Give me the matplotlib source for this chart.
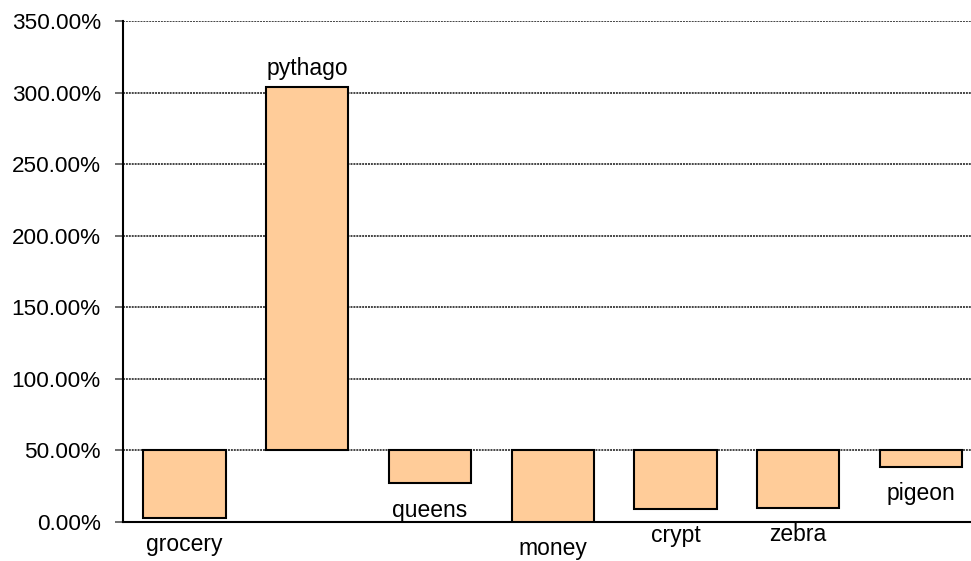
import matplotlib.pyplot as plt
import numpy as np

plt.rcParams['font.family'] = ['Liberation Sans', 'DejaVu Sans']

names = ["grocery", "pythago", "queens", "money", "crypt", "zebra", "pigeon"]
values = [3, 304, 27, 0, 9, 10, 38.5]   # percent
base = 50
yticks = [0, 50, 100, 150, 200, 250, 300, 350]

fig = plt.figure(figsize=(9.71, 5.61), dpi=100)
ax = fig.add_axes([0.1267, 0.0695, 0.885, 0.8931])

x = np.arange(len(names))
heights = np.array(values) - base
ax.bar(x, heights, bottom=base, width=0.67, color='#FFCC99',
       edgecolor='black', linewidth=1.5, zorder=3)

for xi, v, n in zip(x, values, names):
    if v >= base:
        ax.annotate(n, (xi, v), xytext=(0, 5), textcoords='offset points',
                    ha='center', va='bottom', fontsize=16.5)
    else:
        ax.annotate(n, (xi, v), xytext=(0, -11), textcoords='offset points',
                    ha='center', va='top', fontsize=16.5)

ax.set_xlim(-0.5, len(names) - 0.5)
ax.set_ylim(0, 350)
ax.set_yticks(yticks)
ax.set_yticklabels([f"{t:.2f}%" for t in yticks], fontsize=16.2)
ax.set_xticks([])
ax.tick_params(axis='y', direction='out', length=6, width=1.2, color='#555555', pad=10)

ax.yaxis.grid(True, color='#444444', linewidth=1.4, linestyle=(0, (1, 0.5)), zorder=0)
ax.set_axisbelow(True)

for s in ['top', 'right']:
    ax.spines[s].set_visible(False)
ax.spines['left'].set_linewidth(1.5)
ax.spines['bottom'].set_linewidth(1.5)

fig.savefig("out.png", dpi=100)
